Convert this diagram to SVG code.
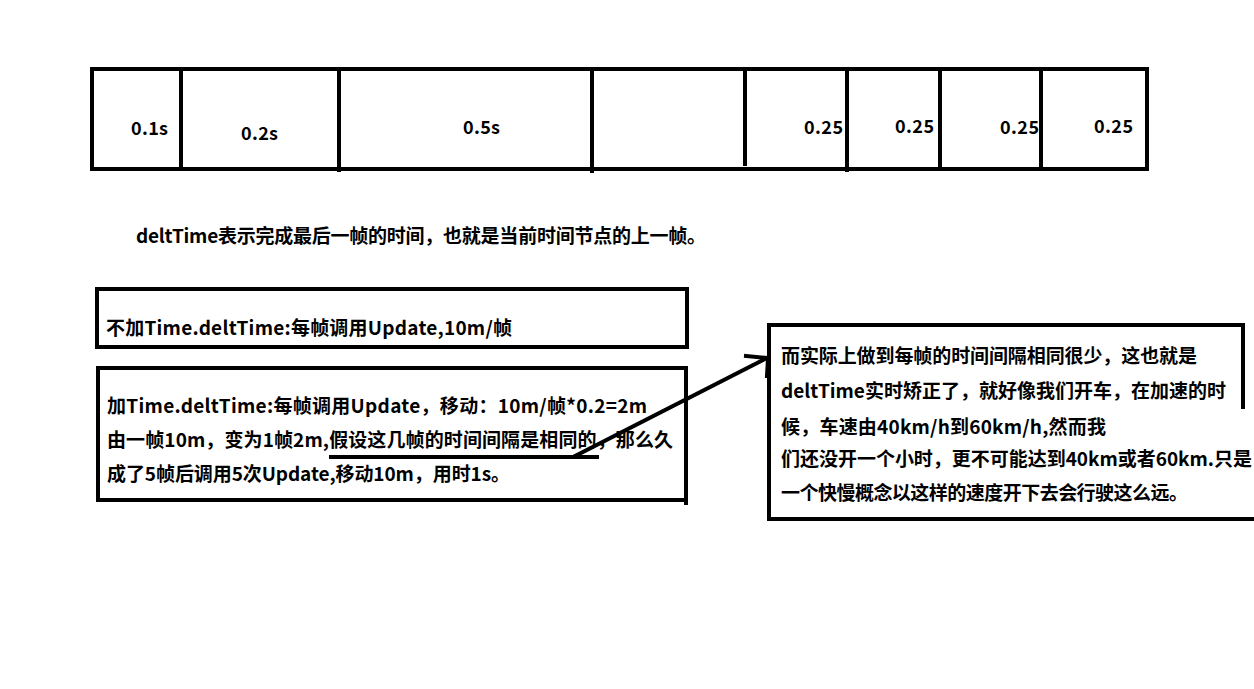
<svg xmlns="http://www.w3.org/2000/svg" width="1254" height="689" viewBox="0 0 1254 689">
<style>
.ln{stroke:#000;stroke-width:4;fill:none;stroke-linecap:square}
.t{font-family:"Noto Sans CJK SC","Microsoft YaHei","Liberation Sans",sans-serif;font-weight:bold;font-size:19px;fill:#000}
.s{font-size:18px}
</style>
<rect width="1254" height="689" fill="#fff"/>
<g id="timeline">
<rect class="ln" x="92" y="69" width="1055" height="100"/>
<line class="ln" x1="181" y1="69" x2="181" y2="169"/>
<line class="ln" x1="339" y1="69" x2="339" y2="170"/>
<line class="ln" x1="592" y1="69" x2="592" y2="171"/>
<line class="ln" x1="745" y1="69" x2="745" y2="164"/>
<line class="ln" x1="847" y1="69" x2="847" y2="170"/>
<line class="ln" x1="940" y1="69" x2="940" y2="169"/>
<line class="ln" x1="1041" y1="69" x2="1041" y2="169"/>
<text class="t s" x="131" y="135" textLength="37">0.1s</text>
<text class="t s" x="241" y="140" textLength="37">0.2s</text>
<text class="t s" x="463" y="134" textLength="37">0.5s</text>
<text class="t s" x="804" y="134" textLength="39">0.25</text>
<text class="t s" x="895" y="133" textLength="39">0.25</text>
<text class="t s" x="1000" y="134" textLength="39">0.25</text>
<text class="t s" x="1094" y="133" textLength="39">0.25</text>
</g>
<g id="caption">
<text class="t" x="136" y="243" textLength="570" lengthAdjust="spacing">deltTime表示完成最后一帧的时间，也就是当前时间节点的上一帧。</text>
</g>
<g id="box1">
<rect class="ln" x="97" y="289" width="590" height="58"/>
<text class="t" x="106" y="335" textLength="406" lengthAdjust="spacing">不加Time.deltTime:每帧调用Update,10m/帧</text>
</g>
<g id="box2">
<polyline class="ln" points="686,503 686,368 98,368 98,500 686,500"/>
<text class="t" x="107" y="413" textLength="540" lengthAdjust="spacing">加Time.deltTime:每帧调用Update，移动：10m/帧*0.2=2m</text>
<text class="t" x="107" y="447" textLength="566" lengthAdjust="spacing">由一帧10m，变为1帧2m,假设这几帧的时间间隔是相同的，那么久</text>
<text class="t" x="107" y="481" textLength="403" lengthAdjust="spacing">成了5帧后调用5次Update,移动10m，用时1s。</text>
<line class="ln" x1="331" y1="457" x2="597" y2="457"/>
</g>
<g id="box3">
<polyline class="ln" points="1243,407 1243,325 769,325 769,519 1254,519"/>
<text class="t" x="781" y="363" textLength="416" lengthAdjust="spacing">而实际上做到每帧的时间间隔相同很少，这也就是</text>
<text class="t" x="781" y="398" textLength="445" lengthAdjust="spacing">deltTime实时矫正了，就好像我们开车，在加速的时</text>
<text class="t" x="781" y="434" textLength="325" lengthAdjust="spacing">候，车速由40km/h到60km/h,然而我</text>
<text class="t" x="781" y="466" textLength="471" lengthAdjust="spacing">们还没开一个小时，更不可能达到40km或者60km.只是</text>
<text class="t" x="781" y="500" textLength="407" lengthAdjust="spacing">一个快慢概念以这样的速度开下去会行驶这么远。</text>
</g>
<g id="connectors">
<line class="ln" x1="575" y1="456" x2="767" y2="358"/>
<polyline class="ln" points="746,356 768,358 767,376"/>
</g>
</svg>
